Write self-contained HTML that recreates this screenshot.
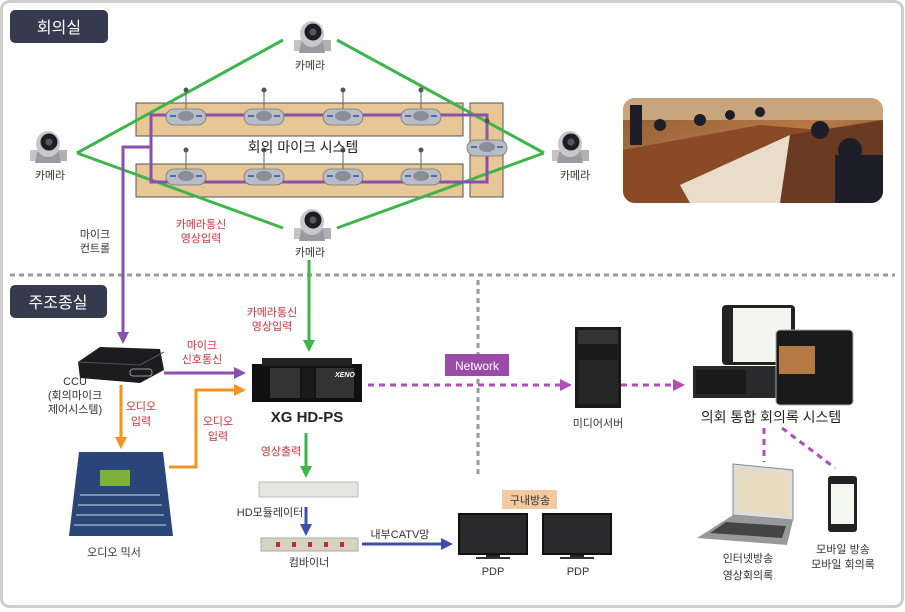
<!DOCTYPE html>
<html><head><meta charset="utf-8"><style>
html,body{margin:0;padding:0;background:#fff;}
svg{display:block;font-family:"Liberation Sans","Noto Sans CJK KR",sans-serif;}
.t{font-size:11px;fill:#333;text-anchor:middle;}
.r{font-size:11px;fill:#d3303a;text-anchor:middle;}
</style></head><body>
<svg width="905" height="612" viewBox="0 0 905 612" xmlns="http://www.w3.org/2000/svg">
<defs>
<marker id="ag" markerWidth="4" markerHeight="4" refX="2" refY="2" orient="auto" markerUnits="strokeWidth"><path d="M0,0 L4,2 L0,4z" fill="#3cb64a"/></marker>
<marker id="ap" markerWidth="4" markerHeight="4" refX="2" refY="2" orient="auto" markerUnits="strokeWidth"><path d="M0,0 L4,2 L0,4z" fill="#8a4fb0"/></marker>
<marker id="ao" markerWidth="4" markerHeight="4" refX="2" refY="2" orient="auto" markerUnits="strokeWidth"><path d="M0,0 L4,2 L0,4z" fill="#f7931e"/></marker>
<marker id="ab" markerWidth="4" markerHeight="4" refX="2" refY="2" orient="auto" markerUnits="strokeWidth"><path d="M0,0 L4,2 L0,4z" fill="#3f4fa8"/></marker>
<marker id="am" markerWidth="4" markerHeight="4" refX="2" refY="2" orient="auto" markerUnits="strokeWidth"><path d="M0,0 L4,2 L0,4z" fill="#b04fb8"/></marker>
<g id="cam">
<rect x="-18" y="2" width="9" height="11" fill="#c4c4c8"/>
<rect x="8" y="2" width="11" height="11" fill="#b0b0b4"/>
<path d="M-13,15 L13,15 L11,4 L-11,4z" fill="#9a9aa0"/>
<ellipse cx="0" cy="-4" rx="12" ry="13" fill="#c8c8cc"/>
<circle cx="1" cy="-6" r="8.5" fill="#1e1e22"/>
<circle cx="1" cy="-6" r="3.5" fill="#556"/>
</g>
<g id="mic">
<line x1="0" y1="-26" x2="0" y2="-8" stroke="#777" stroke-width="1.2"/>
<circle cx="0" cy="-27" r="2.5" fill="#555"/>
<rect x="-20" y="-8" width="40" height="16" rx="8" fill="#b8bcc4" stroke="#777" stroke-width="0.8"/>
<ellipse cx="0" cy="-1" rx="8" ry="5" fill="#8a8e98"/>
<line x1="-16" y1="-1" x2="-10" y2="-1" stroke="#3050a0" stroke-width="1.5"/>
<line x1="10" y1="-1" x2="16" y2="-1" stroke="#3050a0" stroke-width="1.5"/>
</g>
<g id="tv">
<rect x="0" y="0" width="70" height="42" fill="#111"/>
<rect x="2" y="2" width="66" height="38" fill="#2a2a2c"/>
<rect x="28" y="42" width="14" height="2" fill="#222"/>
<rect x="18" y="44" width="34" height="2" fill="#333"/>
</g>
</defs>
<rect x="1.5" y="1.5" width="901" height="605" rx="8" fill="#fff" stroke="#cfcfcf" stroke-width="3"/>
<rect x="10" y="10" width="98" height="33" rx="5" fill="#353a4e"/>
<text x="59" y="33" font-size="16" fill="#fff" text-anchor="middle">회의실</text>
<rect x="10" y="285" width="97" height="33" rx="5" fill="#353a4e"/>
<text x="58" y="308" font-size="16" fill="#fff" text-anchor="middle">주조종실</text>
<line x1="10" y1="275" x2="895" y2="275" stroke="#999" stroke-width="3" stroke-dasharray="5,4"/>
<line x1="478" y1="280" x2="478" y2="476" stroke="#999" stroke-width="3" stroke-dasharray="5,4"/>
<rect x="136" y="103" width="327" height="33" fill="#e6c795" stroke="#555"/>
<rect x="136" y="164" width="327" height="33" fill="#e6c795" stroke="#555"/>
<rect x="470" y="103" width="33" height="94" fill="#e6c795" stroke="#555"/>
<g stroke="#3cb64a" stroke-width="3" fill="none">
<line x1="283" y1="40" x2="77" y2="153"/>
<line x1="337" y1="40" x2="544" y2="153"/>
<line x1="77" y1="153" x2="283" y2="228"/>
<line x1="544" y1="153" x2="337" y2="228"/>
</g>
<rect x="151" y="115" width="336" height="67" fill="none" stroke="#8a4fb0" stroke-width="3"/>
<polyline points="151,147 123,147 123,338" fill="none" stroke="#8a4fb0" stroke-width="3" marker-end="url(#ap)"/>
<use href="#mic" x="186" y="117"/><use href="#mic" x="264" y="117"/><use href="#mic" x="343" y="117"/><use href="#mic" x="421" y="117"/>
<use href="#mic" x="186" y="177"/><use href="#mic" x="264" y="177"/><use href="#mic" x="343" y="177"/><use href="#mic" x="421" y="177"/>
<use href="#mic" x="487" y="148"/>
<text x="303" y="152" font-size="14" fill="#222" text-anchor="middle">회의 마이크 시스템</text>
<use href="#cam" x="312" y="38"/><text class="t" x="310" y="69">카메라</text>
<use href="#cam" x="48" y="148"/><text class="t" x="50" y="179">카메라</text>
<use href="#cam" x="570" y="148"/><text class="t" x="575" y="179">카메라</text>
<use href="#cam" x="312" y="226"/><text class="t" x="310" y="256">카메라</text>
<text class="r" x="201" y="228">카메라통신</text><text class="r" x="201" y="242">영상입력</text>
<text class="t" x="95" y="238">마이크</text><text class="t" x="95" y="252">컨트롤</text>
<defs><linearGradient id="ph" x1="0" y1="0" x2="1" y2="1"><stop offset="0" stop-color="#8c5a35"/><stop offset="0.5" stop-color="#b87a45"/><stop offset="1" stop-color="#4a3428"/></linearGradient>
<clipPath id="pc"><rect x="623" y="98" width="260" height="105" rx="12"/></clipPath></defs>
<g clip-path="url(#pc)">
<rect x="623" y="98" width="260" height="105" fill="url(#ph)"/>
<rect x="623" y="98" width="260" height="22" fill="#c9a57e"/>
<path d="M623,150 L760,125 L820,130 L760,203 L623,203z" fill="#8a4a28"/>
<path d="M680,185 L790,135 L830,145 L790,203 L690,203z" fill="#e9dcc8"/>
<path d="M790,135 L883,120 L883,203 L780,203z" fill="#6a3a22"/>
<g fill="#1e1e28"><circle cx="660" cy="125" r="6"/><circle cx="700" cy="120" r="6"/><circle cx="730" cy="115" r="5"/><circle cx="760" cy="112" r="5"/><circle cx="820" cy="130" r="9"/><circle cx="850" cy="150" r="12"/><circle cx="870" cy="185" r="13"/><rect x="835" y="155" width="48" height="48"/><rect x="630" y="105" width="12" height="40"/></g>
</g>
<line x1="309" y1="260" x2="309" y2="346" stroke="#3cb64a" stroke-width="3" marker-end="url(#ag)"/>
<text class="r" x="272" y="316">카메라통신</text><text class="r" x="272" y="330">영상입력</text>
<path d="M78,362 L100,347 L160,349 L164,370 L140,383 L80,378z" fill="#1c1c1e"/>
<path d="M78,362 L140,365 L164,352" fill="none" stroke="#555"/>
<rect x="130" y="369" width="22" height="7" rx="3" fill="none" stroke="#999"/>
<text class="t" x="75" y="385">CCU</text><text class="t" x="75" y="399">(회의마이크</text><text class="t" x="75" y="413">제어시스템)</text>
<line x1="164" y1="373" x2="240" y2="373" stroke="#8a4fb0" stroke-width="3" marker-end="url(#ap)"/>
<text class="r" x="202" y="349">마이크</text><text class="r" x="202" y="363">신호통신</text>
<line x1="121" y1="385" x2="121" y2="443" stroke="#f7931e" stroke-width="3" marker-end="url(#ao)"/>
<text class="r" x="141" y="410">오디오</text><text class="r" x="141" y="425">입력</text>
<polyline points="169,467 196,467 196,390 240,390" fill="none" stroke="#f7931e" stroke-width="3" marker-end="url(#ao)"/>
<text class="r" x="218" y="425">오디오</text><text class="r" x="218" y="440">입력</text>
<path d="M79,452 L163,452 L173,536 L69,536z" fill="#2a4578"/>
<rect x="100" y="470" width="30" height="16" fill="#7fb03a"/>
<g stroke="#cdd" stroke-width="1">
<line x1="80" y1="495" x2="160" y2="495"/><line x1="78" y1="505" x2="162" y2="505"/><line x1="76" y1="515" x2="164" y2="515"/><line x1="74" y1="525" x2="166" y2="525"/>
</g>
<text class="t" x="114" y="556">오디오 믹서</text>
<rect x="252" y="364" width="110" height="38" fill="#111"/>
<rect x="262" y="358" width="90" height="8" fill="#222"/>
<rect x="270" y="368" width="30" height="30" fill="#333"/>
<rect x="316" y="368" width="38" height="30" fill="#333"/>
<rect x="302" y="368" width="12" height="30" fill="#1a1a1a"/>
<text x="335" y="377" font-size="7" fill="#fff" font-style="italic" font-weight="bold">XENO</text>
<text x="307" y="422" font-size="15" font-weight="bold" fill="#222" text-anchor="middle">XG HD-PS</text>
<line x1="306" y1="433" x2="306" y2="472" stroke="#3cb64a" stroke-width="3" marker-end="url(#ag)"/>
<text class="r" x="281" y="455">영상출력</text>
<rect x="259" y="482" width="99" height="15" fill="#e4e6e2" stroke="#bbb"/>
<text class="t" x="270" y="516">HD모듈레이터</text>
<line x1="306" y1="507" x2="306" y2="530" stroke="#3f4fa8" stroke-width="3" marker-end="url(#ab)"/>
<rect x="261" y="538" width="97" height="13" fill="#d8d2c0" stroke="#aaa"/>
<g fill="#c03030"><rect x="276" y="542" width="4" height="5"/><rect x="292" y="542" width="4" height="5"/><rect x="308" y="542" width="4" height="5"/><rect x="324" y="542" width="4" height="5"/><rect x="340" y="542" width="4" height="5"/></g>
<text class="t" x="309" y="566">컴바이너</text>
<line x1="362" y1="544" x2="447" y2="544" stroke="#3f4fa8" stroke-width="3" marker-end="url(#ab)"/>
<text class="t" x="400" y="538">내부CATV망</text>
<rect x="502" y="490" width="55" height="19" fill="#f2c9a0"/>
<text x="530" y="504" font-size="11" fill="#333" text-anchor="middle">구내방송</text>
<use href="#tv" x="458" y="513"/><use href="#tv" x="542" y="513"/>
<text class="t" x="493" y="575">PDP</text><text class="t" x="578" y="575">PDP</text>
<line x1="368" y1="385" x2="566" y2="385" stroke="#b04fb8" stroke-width="3" stroke-dasharray="6,5" marker-end="url(#am)"/>
<rect x="445" y="354" width="64" height="22" fill="#9b4ca8"/>
<text x="477" y="370" font-size="12" fill="#fff" text-anchor="middle">Network</text>
<rect x="575" y="327" width="46" height="81" fill="#1a1a1a"/>
<rect x="578" y="330" width="40" height="14" fill="#333"/>
<rect x="578" y="360" width="40" height="44" fill="#262626"/>
<text class="t" x="598" y="427">미디어서버</text>
<line x1="621" y1="385" x2="679" y2="385" stroke="#b04fb8" stroke-width="3" stroke-dasharray="6,5" marker-end="url(#am)"/>
<rect x="722" y="305" width="73" height="60" rx="4" fill="#222"/>
<rect x="733" y="308" width="58" height="54" fill="#f4f4f0"/>
<rect x="693" y="366" width="84" height="32" fill="#2a2a2c"/>
<rect x="696" y="370" width="50" height="24" fill="#1a1a1a"/>
<rect x="776" y="330" width="77" height="75" rx="4" fill="#1a1a1a" stroke="#aaa"/>
<rect x="779" y="346" width="36" height="28" fill="#b77a45"/>
<text x="771" y="422" font-size="14" fill="#222" text-anchor="middle">의회 통합 회의록 시스템</text>
<line x1="764" y1="428" x2="764" y2="462" stroke="#b04fb8" stroke-width="3" stroke-dasharray="6,5"/>
<line x1="782" y1="428" x2="835" y2="468" stroke="#b04fb8" stroke-width="3" stroke-dasharray="6,5"/>
<path d="M733,464 L793,470 L793,520 L733,515z" fill="#ddd" stroke="#888"/>
<path d="M737,468 L789,473 L789,516 L737,511z" fill="#e8dcc0"/>
<path d="M733,515 L793,520 L787,545 L697,538z" fill="#999"/>
<path d="M726,522 L786,526 L782,538 L710,533z" fill="#444"/>
<text class="t" x="748" y="562">인터넷방송</text><text class="t" x="748" y="579">영상회의록</text>
<rect x="828" y="476" width="29" height="56" rx="3" fill="#222"/>
<rect x="831" y="484" width="23" height="40" fill="#f4f6f0"/>
<text class="t" x="843" y="553">모바일 방송</text><text class="t" x="843" y="568">모바일 회의록</text>
</svg>
</body></html>
